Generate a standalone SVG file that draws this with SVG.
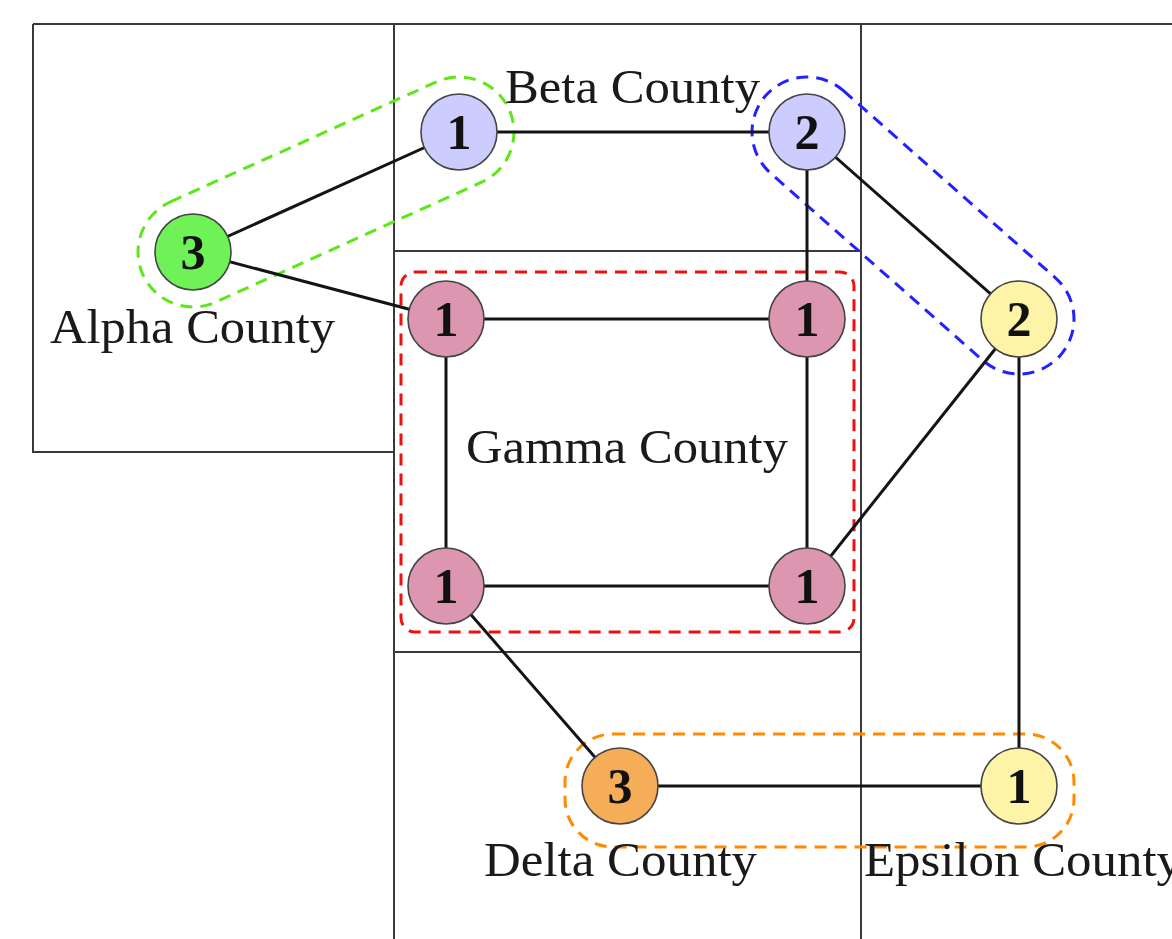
<svg xmlns="http://www.w3.org/2000/svg" width="1172" height="939" viewBox="0 0 1172 939">
<style>
.grid{stroke:#3a3a3a;stroke-width:2;fill:none}
.hull{fill:none;stroke-width:3;stroke-dasharray:12 8}
.edge{stroke:#141414;stroke-width:3}
.node circle{stroke:#444;stroke-width:1.6}
.num{font-family:"Liberation Serif",serif;font-weight:bold;font-size:50px;text-anchor:middle;fill:#111}
.lbl{font-family:"Liberation Serif",serif;font-size:48px;fill:#1a1a1a}
</style>
<rect width="1172" height="939" fill="#fff"/>
<g id="regions">
<path class="grid" d="M33 24 H1172 M33 24 V452 H394 M394 24 V939 M861 24 V939 M394 251 H861 M394 652 H861"/>
</g>
<g id="hulls">
<rect class="hull" stroke="#5be816" x="-200.9" y="-55" width="401.8" height="110" rx="55" transform="translate(326 192) rotate(-24.28)"/>
<rect class="hull" stroke="#2222ff" x="-196.35" y="-55" width="392.7" height="110" rx="55" transform="translate(913 225.5) rotate(41.42)"/>
<rect class="hull" stroke="#ee1111" x="401" y="272" width="453" height="360" rx="14"/>
<rect class="hull" stroke="#ff8a00" x="565" y="734" width="509" height="113" rx="48"/>
</g>
<g id="connectors">
<line class="edge" x1="193" y1="252" x2="459" y2="132"/>
<line class="edge" x1="193" y1="252" x2="446" y2="319"/>
<line class="edge" x1="459" y1="132" x2="807" y2="132"/>
<line class="edge" x1="807" y1="132" x2="807" y2="319"/>
<line class="edge" x1="807" y1="132" x2="1019" y2="319"/>
<line class="edge" x1="446" y1="319" x2="807" y2="319"/>
<line class="edge" x1="446" y1="319" x2="446" y2="586"/>
<line class="edge" x1="807" y1="319" x2="807" y2="586"/>
<line class="edge" x1="446" y1="586" x2="807" y2="586"/>
<line class="edge" x1="807" y1="586" x2="1019" y2="319"/>
<line class="edge" x1="1019" y1="319" x2="1019" y2="786"/>
<line class="edge" x1="446" y1="586" x2="620" y2="786"/>
<line class="edge" x1="620" y1="786" x2="1019" y2="786"/>
</g>
<g id="n-alpha3" class="node"><circle cx="193" cy="252" r="38" fill="#6ef258"/><text class="num" x="193" y="269">3</text></g>
<g id="n-beta1" class="node"><circle cx="459" cy="132" r="38" fill="#ccccff"/><text class="num" x="459" y="149">1</text></g>
<g id="n-beta2" class="node"><circle cx="807" cy="132" r="38" fill="#ccccff"/><text class="num" x="807" y="149">2</text></g>
<g id="n-gamma-tl" class="node"><circle cx="446" cy="319" r="38" fill="#dd96b0"/><text class="num" x="446" y="336">1</text></g>
<g id="n-gamma-tr" class="node"><circle cx="807" cy="319" r="38" fill="#dd96b0"/><text class="num" x="807" y="336">1</text></g>
<g id="n-gamma-bl" class="node"><circle cx="446" cy="586" r="38" fill="#dd96b0"/><text class="num" x="446" y="603">1</text></g>
<g id="n-gamma-br" class="node"><circle cx="807" cy="586" r="38" fill="#dd96b0"/><text class="num" x="807" y="603">1</text></g>
<g id="n-eps2" class="node"><circle cx="1019" cy="319" r="38" fill="#fdf4a8"/><text class="num" x="1019" y="336">2</text></g>
<g id="n-delta3" class="node"><circle cx="620" cy="786" r="38" fill="#f6ad58"/><text class="num" x="620" y="803">3</text></g>
<g id="n-eps1" class="node"><circle cx="1019" cy="786" r="38" fill="#fdf4a8"/><text class="num" x="1019" y="803">1</text></g>
<g id="labels">
<text class="lbl" x="505" y="103" textLength="255" lengthAdjust="spacingAndGlyphs">Beta County</text>
<text class="lbl" x="50" y="343" textLength="285" lengthAdjust="spacingAndGlyphs">Alpha County</text>
<text class="lbl" x="466" y="463" textLength="322" lengthAdjust="spacingAndGlyphs">Gamma County</text>
<text class="lbl" x="484" y="876" textLength="273" lengthAdjust="spacingAndGlyphs">Delta County</text>
<text class="lbl" x="864" y="876" textLength="318" lengthAdjust="spacingAndGlyphs">Epsilon County</text>
</g>
</svg>
